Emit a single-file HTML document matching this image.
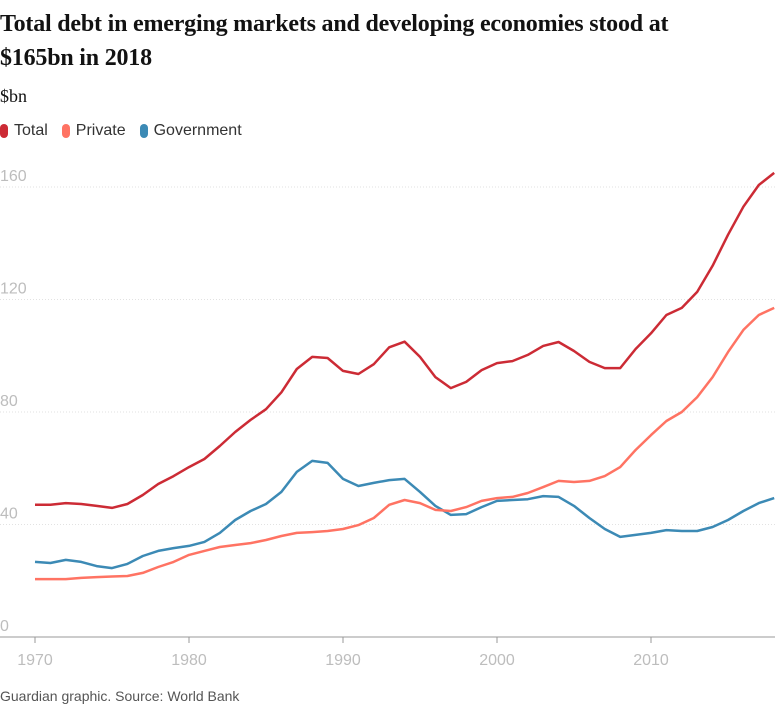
<!DOCTYPE html>
<html><head><meta charset="utf-8"><style>
body{margin:0;background:#fff;width:775px;height:707px;overflow:hidden;font-family:"Liberation Sans",sans-serif}
h1{position:absolute;left:0;top:7px;margin:0;font-family:"Liberation Serif",serif;font-weight:bold;font-size:24px;line-height:34px;color:#121212;width:720px;letter-spacing:-0.2px}
.unit{position:absolute;left:0;top:86px;font-family:"Liberation Serif",serif;font-size:18px;color:#121212}
.legend{position:absolute;left:0;top:122px;font-size:16px;color:#333;display:flex;gap:14px}
.legend span{display:flex;align-items:center}
.legend i{display:inline-block;width:8px;height:14px;border-radius:4px;margin-right:6px}
.src{position:absolute;left:0;top:688px;font-size:14px;color:#555}
svg{position:absolute;left:0;top:0}
</style></head><body>
<h1>Total debt in emerging markets and developing economies stood at $165bn in 2018</h1>
<div class="unit">$bn</div>
<div class="legend">
<span><i style="background:#cc2b35"></i>Total</span>
<span><i style="background:#ff7363"></i>Private</span>
<span><i style="background:#3c8ab5"></i>Government</span>
</div>
<svg id="chart" width="775" height="707"></svg>
<div class="src">Guardian graphic. Source: World Bank</div>
<script>
const years=[];for(let y=1970;y<=2018;y++)years.push(y);
const total=[47,47,47.6,47.3,46.6,45.9,47.3,50.5,54.4,57.2,60.4,63.3,67.9,72.9,77.2,81,87,95.3,99.6,99.2,94.6,93.5,97,103,105,99.6,92.4,88.5,90.7,94.9,97.4,98.1,100.3,103.5,104.9,101.7,97.8,95.6,95.6,102.4,108,114.5,117,122.7,132,143,153,160.7,165];
const priv=[20.6,20.6,20.6,21,21.3,21.5,21.7,22.8,24.9,26.7,29.2,30.6,32,32.7,33.4,34.5,35.9,37,37.3,37.7,38.4,39.8,42.3,47,48.7,47.6,45.2,44.8,46.2,48.4,49.4,49.8,51.2,53.3,55.5,55.1,55.5,57.2,60.4,66.5,71.8,76.8,80,85.3,92.4,101.3,109.2,114.5,117];
const gov=[26.7,26.3,27.4,26.7,25.2,24.5,26,28.8,30.6,31.6,32.4,33.8,37,41.6,44.8,47.3,51.6,58.7,62.6,61.9,56.2,53.7,54.8,55.8,56.2,51.6,46.6,43.4,43.7,46.2,48.4,48.7,49,50.1,49.8,46.6,42.3,38.4,35.6,36.3,37,38,37.7,37.7,39.1,41.6,44.8,47.6,49.4];
const yTicks=[0,40,80,120,160];
const xTicks=[1970,1980,1990,2000,2010];
const NS="http://www.w3.org/2000/svg",svg=document.getElementById('chart');
const X=v=>35+(v-1970)*15.4, Y=v=>637-v*2.8125;
function mk(t,a){const e=document.createElementNS(NS,t);for(const k in a)e.setAttribute(k,a[k]);svg.appendChild(e);return e;}
yTicks.forEach(v=>{
 const l=mk('line',{x1:0,x2:775,y1:Y(v),y2:Y(v),stroke:v===0?'#999':'#e2e2e2','stroke-width':1,'stroke-dasharray':v===0?'':'1,2'});
 
 
 const t=mk('text',{x:0,y:Y(v)-6,fill:'#bdbdbd','font-size':16,'font-family':'Liberation Sans, sans-serif'});t.textContent=v;
 
 
});
xTicks.forEach(v=>{
 const l=mk('line',{x1:X(v),x2:X(v),y1:637,y2:643,stroke:'#999'});
 
 
 const t=mk('text',{x:X(v),y:665,fill:'#bdbdbd','font-size':16,'text-anchor':'middle','font-family':'Liberation Sans, sans-serif'});t.textContent=v;
 
 
});
[[gov,'#3c8ab5','government-line'],[priv,'#ff7363','private-line'],[total,'#cc2b35','total-line']].forEach(([d,c,n])=>{
 const p=mk('path',{d:d.map((v,i)=>(i?'L':'M')+X(years[i]).toFixed(1)+','+Y(v).toFixed(1)).join(''),fill:'none',stroke:c,'stroke-width':2.5,'stroke-linejoin':'round'});
 
 
});
</script>
</body></html>
